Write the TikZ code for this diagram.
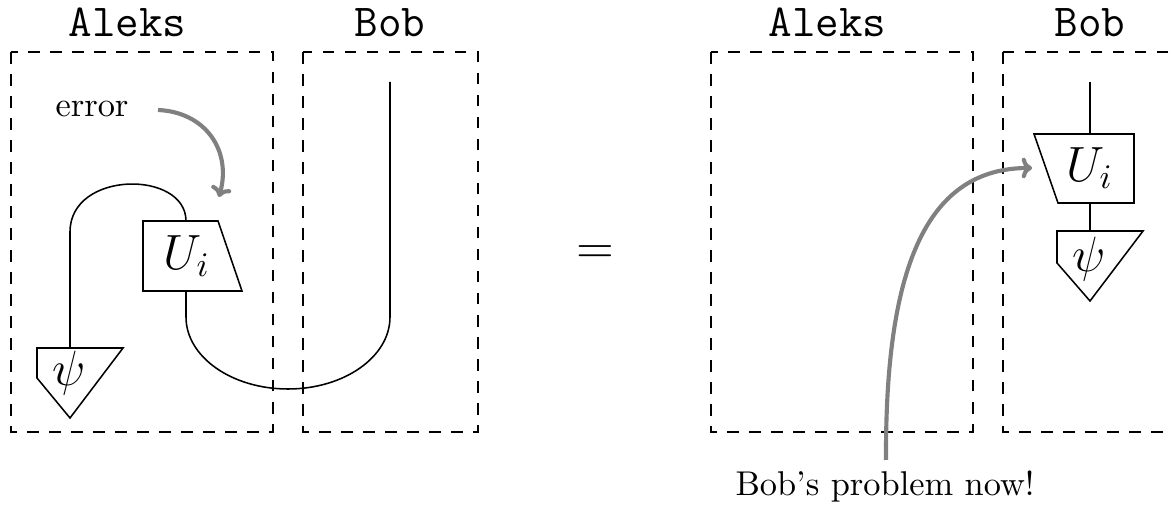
\documentclass[tikz,border=0pt]{standalone}
\usetikzlibrary{arrows.meta}
\begin{document}
\begin{tikzpicture}[x=0.2907pt,y=-0.2907pt,
  wire/.style={line width=0.45pt},
  party/.style={dash pattern=on 3.4pt off 3pt,line width=0.45pt},
  who/.style={font=\fontsize{13.3}{16}\selectfont\ttfamily,anchor=base,inner sep=0pt},
  lab/.style={font=\fontsize{14}{16}\selectfont,inner sep=0pt},
  txt/.style={font=\fontsize{10}{12}\selectfont,anchor=base,inner sep=0pt},
  note/.style={gray,line width=1.2pt,-{To[length=3pt,width=6pt]}}]
\useasboundingbox (0,0) rectangle (1171,505);

% ---------- left side ----------
\node[who] (aleksL) at (127.5,37) {Aleks};
\node[who] (bobL) at (390,37) {Bob};
\draw[party] (11,52) rectangle (273,432);
\draw[party] (303,52) rectangle (478,432);

\draw[wire] (143,221) -- (218,221) -- (242,291) -- (143,291) -- cycle;
\node[lab] (UL) at (187,256) {$U_i$};
\coordinate (ULtop) at (186,221);
\coordinate (ULbot) at (186,291);

\draw[wire] (37,348) -- (123,348) -- (70,418) -- (37,378) -- cycle;
\node[lab] (psiL) at (69,373) {$\psi$};
\coordinate (psiLtop) at (70,348);

\coordinate (bobLtop) at (390,82);

\draw[wire] (ULtop) .. controls (186,170) and (70,170) .. (70,232) -- (psiLtop);
\draw[wire] (ULbot) -- (186,317) .. controls (186,356.8) and (231.7,389) .. (288,389)
  .. controls (344.3,389) and (390,356.8) .. (390,317) -- (bobLtop);

\node[txt] (err) at (92,117) {error};
\coordinate (errS) at (158,110);
\coordinate (errE) at (219,197);
\draw[note] (errS) .. controls (205,112) and (232,150) .. (errE);

\node[lab] (eq) at (595,255) {$=$};

% ---------- right side ----------
\node[who] (aleksR) at (827.5,37) {Aleks};
\node[who] (bobR) at (1090,37) {Bob};
\draw[party] (711,52) rectangle (973,432);
\draw[party] (1003,52) rectangle (1190,432);

\coordinate (bobRtop) at (1090,82);
\draw[wire] (1034,134) -- (1134,134) -- (1134,203) -- (1058,203) -- cycle;
\node[lab] (UR) at (1090,168) {$U_i$};
\coordinate (URtop) at (1090,134);
\coordinate (URbot) at (1090,203);

\draw[wire] (1057,231) -- (1143,231) -- (1090,301) -- (1057,263) -- cycle;
\node[lab] (psiR) at (1089,259) {$\psi$};
\coordinate (psiRtop) at (1090,231);

\draw[wire] (bobRtop) -- (URtop);
\draw[wire] (URbot) -- (psiRtop);

\node[txt] (prob) at (885,496) {Bob's problem now!};
\coordinate (probS) at (886,460);
\coordinate (probE) at (1032,168);
\draw[note] (probS) .. controls (885,260) and (930,168) .. (probE);
\end{tikzpicture}
\end{document}
